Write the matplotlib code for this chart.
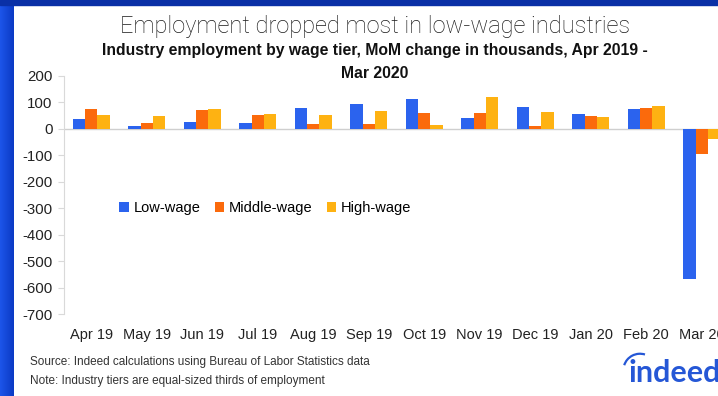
import matplotlib
matplotlib.use("Agg")
import matplotlib.pyplot as plt
import numpy as np
from matplotlib.patches import Arc

# Monthly change in employment (thousands) by wage tier
months = ["Apr 19", "May 19", "Jun 19", "Jul 19", "Aug 19", "Sep 19",
          "Oct 19", "Nov 19", "Dec 19", "Jan 20", "Feb 20", "Mar 20"]
low_wage = [38, 9, 25, 21, 79, 92, 113, 40, 83, 57, 73, -569]
middle_wage = [76, 21, 70, 50, 16, 16, 60, 60, 10, 46, 79, -94]
high_wage = [51, 48, 74, 57, 53, 65, 15, 120, 63, 44, 84, -40]
yticks = [200, 100, 0, -100, -200, -300, -400, -500, -600, -700]

series = [("Low-wage", low_wage, "#2b63ee"),
          ("Middle-wage", middle_wage, "#fb6a0c"),
          ("High-wage", high_wage, "#feb212")]

plt.rcParams['font.family'] = ['Liberation Sans', 'DejaVu Sans']

fig = plt.figure(figsize=(7.18, 3.96), dpi=100)
fig.patch.set_facecolor("white")

# blue frame: gradient strip on the left, flat strip on top
frame = fig.add_axes([0, 0, 14 / 718, 1])
grad = np.linspace(0, 1, 64).reshape(1, -1)
frame.imshow(grad, aspect="auto", extent=[0, 1, 0, 1],
             cmap=matplotlib.colors.LinearSegmentedColormap.from_list(
                 "edge", ["#1d55ea", "#0b3ac4"]))
frame.axis("off")
fig.patches.append(plt.Rectangle((0, 1 - 5 / 396), 1, 5 / 396,
                                 transform=fig.transFigure,
                                 color="#0a30a6", zorder=10))

ax = fig.add_axes([63.5 / 718, 82 / 396, 666 / 718, 238.3 / 396])
x = np.arange(len(months))
w = 0.222
for i, (name, vals, col) in enumerate(series):
    ax.bar(x + (i - 1) * w, vals, width=w, color=col, label=name, zorder=3)

ax.set_xlim(-0.5, 11.5)
ax.set_ylim(-700, 200)
ax.set_yticks(yticks)
ax.set_yticklabels([str(t) for t in yticks], fontsize=10.8, color="#222222")
ax.set_xticks(x)
ax.set_xticklabels(months, fontsize=10.5, color="#222222")
ax.tick_params(axis="x", length=0, pad=10)
ax.tick_params(axis="y", length=4, width=0.8, color="#d9d9d9", pad=4)
ax.axhline(0, color="#cfcfcf", lw=1, zorder=2)
for s in ["top", "right", "bottom"]:
    ax.spines[s].set_visible(False)
ax.spines["left"].set_color("#d9d9d9")
ax.spines["left"].set_linewidth(0.8)

ax.legend(loc="center", bbox_to_anchor=(0.303, 0.445), ncol=3, frameon=False,
          fontsize=10.5, handlelength=0.65, handleheight=0.65,
          handletextpad=0.3, columnspacing=1.0)

fig.text(0.522, 1 - 27 / 396, "Employment dropped most in low-wage industries",
         ha="center", va="center", fontsize=17, fontweight="light",
         family=["Roboto", "Liberation Sans"], color="#1a1a1a")
fig.text(0.522, 1 - 50 / 396,
         "Industry employment by wage tier, MoM change in thousands, Apr 2019 -",
         ha="center", va="center", fontsize=11.3, fontweight="bold",
         color="#111111")
fig.text(0.522, 1 - 73 / 396, "Mar 2020", ha="center", va="center",
         fontsize=11.3, fontweight="bold", color="#111111")

fig.text(30 / 718, 1 - 362 / 396,
         "Source: Indeed calculations using Bureau of Labor Statistics data",
         ha="left", va="center", fontsize=8.5, color="#333333")
fig.text(30 / 718, 1 - 381 / 396,
         "Note: Industry tiers are equal-sized thirds of employment",
         ha="left", va="center", fontsize=8.5, color="#333333")

# indeed wordmark in the corner
fig.text(628 / 718, 1 - 373 / 396, "indeed", ha="left", va="center",
         fontsize=22, fontweight="bold", color="#2557d6",
         family=["Lato", "Liberation Sans"])
logo = fig.add_axes([622 / 718, 1 - 375 / 396, 30 / 718, 25 / 396])
logo.add_patch(Arc((0.6, 0.2), 1.1, 1.3, theta1=75, theta2=160,
                   color="#2557d6", lw=1.6))
logo.set_xlim(0, 1)
logo.set_ylim(0, 1)
logo.axis("off")

fig.savefig("out.png", dpi=100)
